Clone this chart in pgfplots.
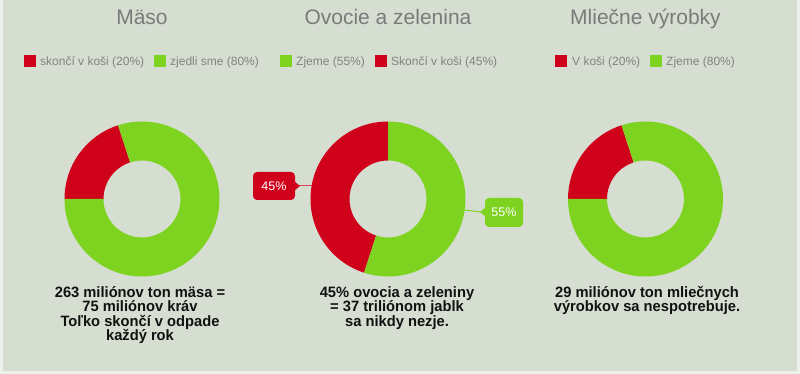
\documentclass[border=0pt]{standalone}
\usepackage{pgfplots}
\pgfplotsset{compat=1.18}
\usepackage{fontspec}
\setmainfont{Liberation Sans}
\newfontfamily\bodyfont[FakeStretch=0.98]{Liberation Sans}
\definecolor{bg}{RGB}{214,222,209}
\definecolor{myred}{RGB}{208,2,27}
\definecolor{mygreen}{RGB}{126,211,33}
\definecolor{titlegray}{RGB}{122,122,122}
\definecolor{leggray}{RGB}{130,130,130}
\definecolor{bodyblack}{RGB}{17,17,17}

% annular slice: cx, cy, start angle, percent, colour (axis units = pt)
\newcommand{\slice}[5]{%
  \fill[#5] (axis cs:{#1+77.5*cos(#3)},{#2+77.5*sin(#3)})
    arc[start angle={#3}, end angle={#3+3.6*#4}, radius=77.5pt]
    -- (axis cs:{#1+38.5*cos(#3+3.6*#4)},{#2+38.5*sin(#3+3.6*#4)})
    arc[start angle={#3+3.6*#4}, end angle={#3}, radius=38.5pt] -- cycle;}
% two-slice donut: cx, cy, start, p1, c1, p2, c2
\newcommand{\donut}[7]{%
  \slice{#1}{#2}{#3}{#4}{#5}%
  \slice{#1}{#2}{#3+3.6*#4}{#6}{#7}}
% legend item: square x, text x, colour, text
\newcommand{\legitem}[4]{%
  \fill[#3] (axis cs:#1,307) rectangle (axis cs:{#1+12},319);
  \node[anchor=base west, inner sep=0pt, text=leggray, font=\fontsize{12}{14}\selectfont] at (axis cs:#2,308) {#4};}
\newcommand{\bodyline}[3]{%
  \node[anchor=base, inner sep=0pt, text=bodyblack, font=\bodyfont\bfseries\fontsize{15}{14.5}\selectfont] at (axis cs:#1,#2) {#3};}
\newcommand{\charttitle}[2]{%
  \node[anchor=base, inner sep=0pt, text=titlegray, font=\fontsize{21}{25}\selectfont] at (axis cs:#1,349) {#2};}

\begin{document}
\begin{tikzpicture}
\fill[bg] (0,0) rectangle (800pt,374pt);
\fill[white!55!bg] (0,0) rectangle (3pt,374pt);
\fill[white!55!bg] (0,0) rectangle (800pt,3pt);
\fill[white!55!bg] (797pt,0) rectangle (800pt,374pt);
\begin{axis}[
  at={(0,0)}, anchor=south west,
  x=1pt, y=1pt,
  xmin=0, xmax=800, ymin=0, ymax=374,
  hide axis, clip=false,
]
% titles
\charttitle{142}{Mäso}
\charttitle{388}{Ovocie a zelenina}
\charttitle{645.5}{Mliečne výrobky}
% legends
\legitem{24}{40}{myred}{skončí v koši (20\%)}
\legitem{154}{170}{mygreen}{zjedli sme (80\%)}
\legitem{280}{296}{mygreen}{Zjeme (55\%)}
\legitem{375}{391}{myred}{Skončí v koši (45\%)}
\legitem{555}{572}{myred}{V koši (20\%)}
\legitem{650}{666}{mygreen}{Zjeme (80\%)}
% donuts: values in percent
\donut{142}{175}{108}{20}{myred}{80}{mygreen}
\donut{388}{175}{90}{45}{myred}{55}{mygreen}
\donut{645.5}{175}{108}{20}{myred}{80}{mygreen}
% callouts
\draw[myred!75, line width=1pt] (axis cs:298,188) -- (axis cs:312,188);
\fill[myred, rounded corners=4pt] (axis cs:253,174) rectangle (axis cs:295,202);
\fill[myred] (axis cs:294,193) -- (axis cs:300,188) -- (axis cs:294,183) -- cycle;
\node[text=white, font=\fontsize{12.5}{14}\selectfont] at (axis cs:274,188) {45\%};
\draw[mygreen, line width=1pt] (axis cs:464,164) -- (axis cs:481,162);
\fill[mygreen, rounded corners=4pt] (axis cs:485,147) rectangle (axis cs:523,176);
\fill[mygreen] (axis cs:486,167) -- (axis cs:480,162) -- (axis cs:486,157) -- cycle;
\node[text=white, font=\fontsize{12.5}{14}\selectfont] at (axis cs:504,162) {55\%};
% texts below
\bodyline{140}{76.5}{263 miliónov ton mäsa =}
\bodyline{140}{62}{75 miliónov kráv}
\bodyline{140}{47.5}{Toľko skončí v odpade}
\bodyline{140}{33}{každý rok}
\bodyline{397}{76.5}{45\% ovocia a zeleniny}
\bodyline{397}{62}{= 37 triliónom jablk}
\bodyline{397}{47.5}{sa nikdy nezje.}
\bodyline{647}{76.5}{29 miliónov ton mliečnych}
\bodyline{647}{62}{výrobkov sa nespotrebuje.}
\end{axis}
\end{tikzpicture}
\end{document}
